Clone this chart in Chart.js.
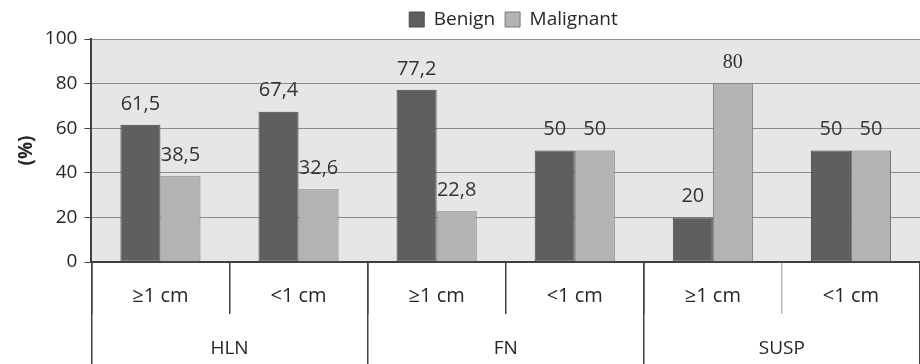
<!DOCTYPE html>
<html>
<head>
<meta charset="utf-8">
<script src="https://cdn.jsdelivr.net/npm/chart.js@4.4.1/dist/chart.umd.min.js"></script>
<style>
  html, body { margin: 0; padding: 0; background: #fff; }
  #wrap { width: 920px; height: 364px; }
</style>
</head>
<body>
<div id="wrap"><canvas id="chart1"></canvas></div>
<script>
// Benign vs Malignant (%) by size, grouped HLN / FN / SUSP
const sizeLabels = ['≥1 cm', '<1 cm', '≥1 cm', '<1 cm', '≥1 cm', '<1 cm'];
const groupLabels = ['HLN', 'FN', 'SUSP'];
const benignValues = [61.5, 67.4, 77.2, 50, 20, 50];
const malignantValues = [38.5, 32.6, 22.8, 50, 80, 50];
const yTicks = [0, 20, 40, 60, 80, 100];

const FONT = "'Open Sans', sans-serif";
Chart.defaults.font.family = FONT;
Chart.defaults.font.size = 19;
Chart.defaults.color = '#262626';

// grey plot background
const plotBg = {
    id: 'plotBg',
    beforeDraw(chart) {
        const a = chart.chartArea;
        const c = chart.ctx;
        c.save();
        c.fillStyle = '#e6e6e6';
        c.fillRect(a.left, a.top, a.right - a.left, a.bottom - a.top);
        c.restore();
    }
};

// value labels above bars (drawn under the bars, like the original)
const valueLabels = {
    id: 'valueLabels',
    beforeDatasetsDraw(chart) {
        const c = chart.ctx;
        c.save();
        c.fillStyle = '#333';
        c.textAlign = 'center';
        c.textBaseline = 'middle';
        chart.data.datasets.forEach(function(ds, i) {
            const meta = chart.getDatasetMeta(i);
            meta.data.forEach(function(bar, j) {
                const v = ds.data[j];
                // the 80 label is in a serif face in the source
                c.font = (i === 1 && j === 4) ? "20px 'Liberation Serif', serif" : '20px ' + FONT;
                c.fillText(String(v).replace('.', ','), bar.x, bar.y - 21);
            });
        });
        c.restore();
    }
};

// legend sits a bit right of centre
const legendShift = {
    id: 'legendShift',
    afterLayout(chart) {
        chart.legend.left += 50;
        chart.legend.right += 50;
    }
};

// divider colour: last one on the right edge hidden
function dividerColor(count, light) {
    return function(c) {
        if (c.index === count) return 'rgba(0,0,0,0)';
        if (light && c.index === light) return '#bdbdbd';
        return '#404040';
    };
}

const ctx1 = document.getElementById('chart1').getContext('2d');
const chart1 = new Chart(ctx1, {
    type: 'bar',
    data: {
        labels: sizeLabels,
        datasets: [{
            label: 'Benign',
            xAxisID: 'x',
            data: benignValues,
            backgroundColor: '#5f5f5f',
            borderColor: '#4a4a4a',
            borderWidth: 1,
            borderSkipped: false
        }, {
            label: 'Malignant',
            xAxisID: 'x',
            data: malignantValues,
            backgroundColor: '#b3b3b3',
            borderColor: '#777777',
            borderWidth: 1,
            borderSkipped: false
        }]
    },
    plugins: [plotBg, valueLabels, legendShift],
    options: {
        responsive: true,
        maintainAspectRatio: false,
        animation: false,
        layout: { padding: { left: 7, right: 0, top: 0, bottom: 34 } },
        datasets: {
            bar: { categoryPercentage: 0.58, barPercentage: 1.0 }
        },
        plugins: {
            legend: {
                position: 'top',
                labels: { boxWidth: 15, boxHeight: 15, padding: 10, font: { size: 19 } }
            },
            tooltip: { enabled: false }
        },
        scales: {
            // short dividers between sizes (zero-height axis, ticks only)
            xTicks: {
                type: 'category',
                position: 'bottom',
                labels: sizeLabels.map(function() { return ''; }),
                offset: true,
                grid: { offset: true, drawOnChartArea: false, tickLength: 52, lineWidth: 1.5, color: dividerColor(6, 5) },
                border: { display: false },
                ticks: { mirror: true, padding: -26, autoSkip: false, maxRotation: 0 }
            },
            // long dividers and group names (zero-height axis, mirrored labels)
            xGroups: {
                type: 'category',
                position: 'bottom',
                labels: groupLabels,
                offset: true,
                grid: { offset: true, drawOnChartArea: false, tickLength: 196.8, lineWidth: 1.5, color: dividerColor(3) },
                border: { display: false },
                ticks: { mirror: true, padding: -98.4, autoSkip: false, maxRotation: 0, color: '#262626' }
            },
            x: {
                position: 'bottom',
                offset: true,
                grid: { display: false, drawTicks: false },
                border: { color: '#404040', width: 2 },
                ticks: { padding: 22, maxRotation: 0, autoSkip: false, color: '#262626', font: { size: 20 } }
            },
            y: {
                min: 0,
                max: 100,
                afterBuildTicks(scale) {
                    scale.ticks = yTicks.map(function(v) { return { value: v }; });
                },
                grid: { color: '#8c8c8c', tickColor: '#404040', tickLength: 7, lineWidth: 1 },
                border: { color: '#404040', width: 2 },
                ticks: { padding: 7, color: '#262626' },
                title: { display: true, text: '(%)', font: { size: 19, weight: 'bold' }, color: '#262626', padding: { top: 8, bottom: 0 } }
            }
        }
    }
});
</script>
</body>
</html>
